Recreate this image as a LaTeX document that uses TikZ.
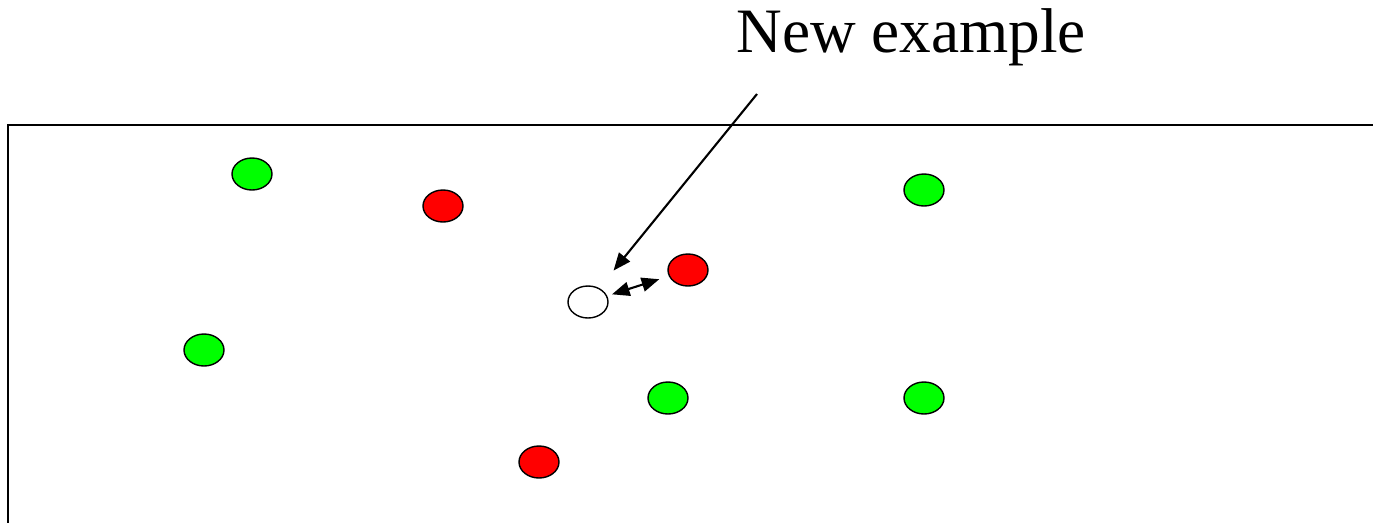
\documentclass[tikz,border=0pt]{standalone}
\usepackage{fontspec}
\setmainfont{Liberation Serif}
\usetikzlibrary{shapes.geometric, arrows.meta, positioning, calc}
\definecolor{knngreen}{HTML}{00FF00}
\definecolor{knnred}{HTML}{FF0000}

\begin{document}
\begin{tikzpicture}[x=0.02cm, y=-0.02cm,
      point/.style={ellipse, draw=black, line width=0.8pt, minimum width=0.8cm, minimum height=0.64cm, inner sep=0pt},
      greenpt/.style={point, fill=knngreen},
      redpt/.style={point, fill=knnred},
      querypt/.style={point, fill=white},
      pointer/.style={-{Triangle[length=10pt, width=8pt]}, line width=1.2pt}
    ]
      \useasboundingbox (0,0) rectangle (1373,522);

      % feature space (cut off right and bottom)
      \draw[line width=1.1pt] (8,540) -- (8,125) -- (1390,125);

      \node[font=\fontsize{36}{43}\selectfont, inner sep=0pt, anchor=base west] (title) at (736,52) {New example};

      \node[greenpt] (g1) at (252,174) {};
      \node[greenpt] (g2) at (924,190) {};
      \node[greenpt] (g3) at (204,350) {};
      \node[greenpt] (g4) at (668,398) {};
      \node[greenpt] (g5) at (924,398) {};

      \node[redpt] (r1) at (443,206) {};
      \node[redpt] (r2) at (688,270) {};
      \node[redpt] (r3) at (539,462) {};

      \node[querypt] (new) at (588,302) {};

      \coordinate (from) at (757,94);
      \draw[pointer, shorten >=0.45cm] (from) -- (new);
      \draw[pointer, {Triangle[length=10pt, width=8pt]}-{Triangle[length=10pt, width=8pt]}, shorten <=0.1cm, shorten >=0.2cm] (new) -- (r2);
    \end{tikzpicture}
\end{document}
